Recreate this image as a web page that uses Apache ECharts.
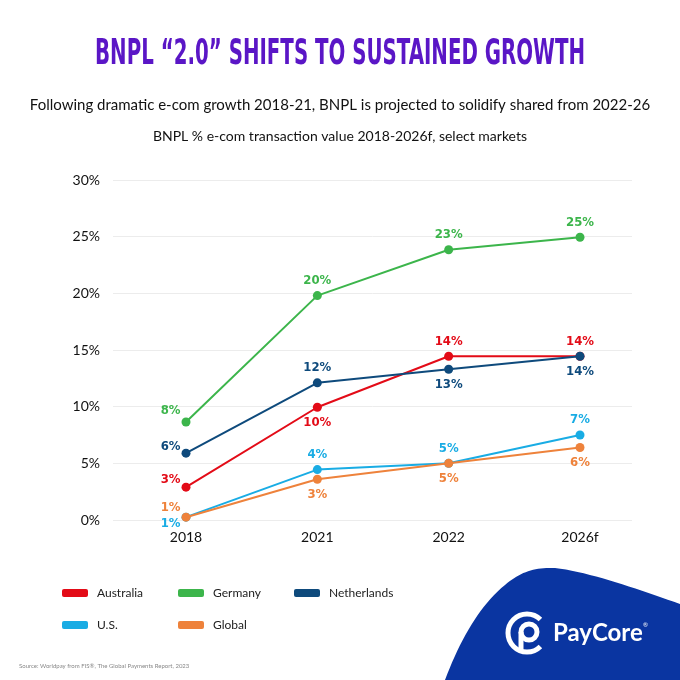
<!DOCTYPE html>
<html>
<head>
<meta charset="utf-8">
<script src="https://cdn.jsdelivr.net/npm/echarts@6/dist/echarts.min.js"></script>
<style>
html,body{margin:0;padding:0;background:#fff;}
#c{width:680px;height:680px;}
</style>
</head>
<body>
<div id="c"></div>
<script>
// ---- data ----
const categories = ['2018', '2021', '2022', '2026f'];
const seriesNames = ['Australia', 'Germany', 'Netherlands', 'U.S.', 'Global'];
const australia = [2.9, 9.95, 14.45, 14.45];
const germany = [8.65, 19.8, 23.85, 24.95];
const netherlands = [5.9, 12.1, 13.3, 14.45];
const us = [0.25, 4.45, 5.0, 7.5];
const globalVals = [0.25, 3.6, 5.0, 6.4];
const australiaLabels = ['3%', '10%', '14%', '14%'];
const germanyLabels = ['8%', '20%', '23%', '25%'];
const netherlandsLabels = ['6%', '12%', '13%', '14%'];
const usLabels = ['1%', '4%', '5%', '7%'];
const globalLabels = ['1%', '3%', '5%', '6%'];
const yTicks = [0, 5, 10, 15, 20, 25, 30];

// ---- styles ----
const colors = ['#e30b17', '#3cb54b', '#0e4a7c', '#19ace4', '#ee823b'];
const condFont = '"DejaVu Sans Condensed", "DejaVu Sans", sans-serif';
const bodyFont = 'Lato, "Noto Sans", sans-serif';
// label placement per series per point: 't' top, 'b' bottom, or [dy] for left-side placement
const placement = [
  [[-8], 'b', 't', 't'],
  [[-11], 't', 't', 't'],
  [[-7], 't', 'b', 'b'],
  [[6], 't', 't', 't'],
  [[-10], 'b', 'b', 'b']
];
const values = [australia, germany, netherlands, us, globalVals];
const labels = [australiaLabels, germanyLabels, netherlandsLabels, usLabels, globalLabels];

const series = seriesNames.map((name, si) => ({
  name: name,
  type: 'line',
  xAxisIndex: 0,
  yAxisIndex: 0,
  symbol: 'circle',
  symbolSize: 9,
  lineStyle: { width: 2, color: colors[si] },
  itemStyle: { color: colors[si] },
  z: 3 + si,
  data: values[si].map((v, i) => {
    const p = placement[si][i];
    let label;
    if (Array.isArray(p)) {
      label = { position: 'left', distance: 1, offset: [0, p[0]] };
    } else {
      label = { position: p === 't' ? 'top' : 'bottom', distance: 4 };
    }
    label.show = true;
    label.formatter = labels[si][i];
    return { value: v, label: label };
  }),
  label: {
    show: true,
    color: colors[si],
    fontFamily: condFont,
    fontWeight: 'bold',
    fontSize: 13
  },
  emphasis: { disabled: true }
}));

const legendPos = [[62, 587], [178, 587], [294, 587], [62, 619], [178, 619]];
const legends = seriesNames.map((n, i) => ({
  data: [n],
  left: legendPos[i][0],
  top: legendPos[i][1],
  padding: 0,
  itemWidth: 26,
  itemHeight: 8,
  icon: 'roundRect',
  selectedMode: false,
  textStyle: { fontFamily: bodyFont, fontSize: 12, color: '#222', padding: [0, 0, 0, 4] }
}));

// title: condensed heavy text, horizontally squeezed to the reference width
const titleText = 'BNPL “2.0” SHIFTS TO SUSTAINED GROWTH';
const titleFont = 'bold 35px ' + condFont;
const mctx = document.createElement('canvas').getContext('2d');
mctx.font = titleFont;
const titleW = mctx.measureText(titleText).width;
const titleScale = 490 / titleW;

// blue decorative blob (sampled cubic curves)
function cubic(p0, p1, p2, p3, n) {
  const pts = [];
  for (let k = 0; k <= n; k++) {
    const t = k / n, u = 1 - t;
    pts.push([
      u*u*u*p0[0] + 3*u*u*t*p1[0] + 3*u*t*t*p2[0] + t*t*t*p3[0],
      u*u*u*p0[1] + 3*u*u*t*p1[1] + 3*u*t*t*p2[1] + t*t*t*p3[1]
    ]);
  }
  return pts;
}
const blob = []
  .concat(cubic([445, 680], [460, 640], [480, 605], [505, 585], 20))
  .concat(cubic([505, 585], [520, 572], [535, 567], [555, 568], 20))
  .concat(cubic([555, 568], [590, 572], [640, 590], [680, 604], 20))
  .concat([[680, 680]]);

const chart = echarts.init(document.getElementById('c'), null, { renderer: 'canvas' });
chart.setOption({
  backgroundColor: '#ffffff',
  animation: false,
  title: [
    { text: 'Following dramatic e-com growth 2018-21, BNPL is projected to solidify shared from 2022-26', left: 'center', top: 93,
      textStyle: { fontFamily: bodyFont, fontWeight: 'normal', fontSize: 15, color: '#111' } },
    { text: 'BNPL % e-com transaction value 2018-2026f, select markets', left: 'center', top: 124,
      textStyle: { fontFamily: bodyFont, fontWeight: 'normal', fontSize: 14, color: '#111' } },
    { text: 'Source: Worldpay from FIS®, The Global Payments Report, 2023', left: 14, top: 658,
      textStyle: { fontFamily: bodyFont, fontWeight: 'normal', fontSize: 6, color: '#888' } }
  ],
  legend: legends,
  grid: [
    { left: 186, right: 100, top: 180, bottom: 160 },
    { left: 113, right: 48, top: 180, bottom: 160 }
  ],
  xAxis: [
    { type: 'category', gridIndex: 0, data: categories, boundaryGap: false,
      axisLine: { show: false }, axisTick: { show: false },
      axisLabel: { fontFamily: bodyFont, fontSize: 14, color: '#111', margin: 10 } },
    { type: 'category', gridIndex: 1, data: categories, show: false }
  ],
  yAxis: [
    { type: 'value', gridIndex: 0, min: 0, max: 30, interval: 5, show: false },
    { type: 'value', gridIndex: 1, min: yTicks[0], max: yTicks[yTicks.length - 1], interval: 5,
      axisLine: { show: false }, axisTick: { show: false },
      splitLine: { lineStyle: { color: '#ececec', width: 1 } },
      axisLabel: { fontFamily: bodyFont, fontSize: 14, color: '#111', margin: 13, padding: [0, 0, 7, 0], formatter: '{value}%' } }
  ],
  series: series,
  graphic: [
    { type: 'text', z: 10, x: 340, y: 55, scaleX: titleScale, scaleY: 1,
      style: { text: titleText, fill: '#5a16c6', font: titleFont, textAlign: 'center', textVerticalAlign: 'middle' } },
    { type: 'polygon', z: 0, shape: { points: blob }, style: { fill: '#0a35a1' } },
    { type: 'arc', z: 1, shape: { cx: 527, cy: 633, r: 19, startAngle: Math.PI / 4, endAngle: Math.PI * 7 / 4, clockwise: true },
      style: { stroke: '#fff', lineWidth: 5, fill: null } },
    { type: 'circle', z: 1, shape: { cx: 529, cy: 632, r: 8 }, style: { stroke: '#fff', lineWidth: 5, fill: null } },
    { type: 'rect', z: 1, shape: { x: 518.5, y: 632, width: 5, height: 20 }, style: { fill: '#fff' } },
    { type: 'text', z: 1, x: 553, y: 621,
      style: { text: 'PayCore', fill: '#fff', font: 'bold 24px Lato, "Noto Sans", sans-serif' } },
    { type: 'text', z: 1, x: 643, y: 622,
      style: { text: '®', fill: '#fff', font: '6px Lato, sans-serif' } }
  ]
});
</script>
</body>
</html>
